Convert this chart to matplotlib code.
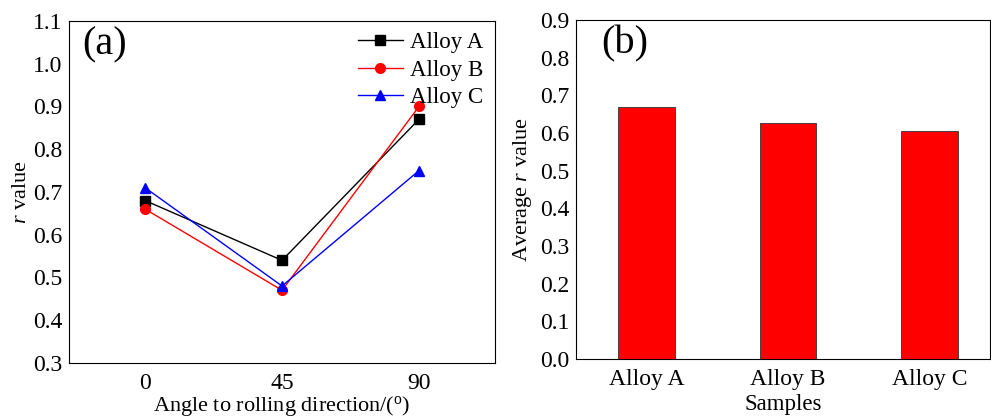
import numpy as np
import matplotlib.pyplot as plt

plt.rcParams['font.family'] = ['Liberation Serif', 'DejaVu Serif']
plt.rcParams['mathtext.fontset'] = 'custom'
plt.rcParams['mathtext.rm'] = 'Liberation Serif'
plt.rcParams['mathtext.it'] = 'Liberation Serif:italic'

# Data
angles = [0, 45, 90]
alloy_a = [0.68, 0.54, 0.87]
alloy_b = [0.66, 0.47, 0.90]
alloy_c = [0.71, 0.48, 0.75]

samples = ["Alloy A", "Alloy B", "Alloy C"]
avg_r = [0.668, 0.626, 0.606]

fig = plt.figure(figsize=(9.91, 4.19), dpi=100)

# (a) r value vs angle
ax1 = fig.add_axes([0.0696, 0.1337, 0.43, 0.8163])
ax1.plot(angles, alloy_a, "-", color="black", marker="s", ms=6.5, lw=1, label="Alloy A")
ax1.plot(angles, alloy_b, "-", color="red", marker="o", ms=7, lw=1, label="Alloy B")
ax1.plot(angles, alloy_c, "-", color="blue", marker="^", ms=7, lw=1, label="Alloy C")
ax1.set_xlim(-25, 115)
ax1.set_ylim(0.3, 1.1)
ax1.set_xticks(angles)
ax1.set_yticks(np.arange(0.3, 1.11, 0.1))
ax1.yaxis.set_major_formatter(plt.FormatStrFormatter('%.1f'))
ax1.tick_params(length=0, labelsize=17)
ax1.tick_params(axis="x", pad=7)
ax1.tick_params(axis="y", pad=5)
ax1.set_xlabel(r"Angle to rolling direction/($^{\mathrm{o}}$)", fontsize=16, labelpad=0)
ax1.set_ylabel(r"$\it{r}$ value", fontsize=16, labelpad=1)
ax1.text(0.03, 0.985, "(a)", transform=ax1.transAxes, fontsize=29, va="top", ha="left")
ax1.legend(loc="upper right", frameon=False, fontsize=16.5, handlelength=2.0,
           handletextpad=0.3, labelspacing=0.28, borderaxespad=0.1)

# (b) average r value
ax2 = fig.add_axes([0.5812, 0.1432, 0.418, 0.8091])
ax2.bar(range(len(samples)), avg_r, width=0.4, color="red", edgecolor="#333333", lw=0.6)
ax2.set_xlim(-0.5, 2.43)
ax2.set_ylim(0, 0.9)
ax2.set_xticks(range(len(samples)))
ax2.set_xticklabels(samples)
ax2.set_yticks(np.arange(0, 0.91, 0.1))
ax2.yaxis.set_major_formatter(plt.FormatStrFormatter('%.1f'))
ax2.tick_params(length=0, labelsize=17)
ax2.tick_params(axis="x", pad=7)
ax2.tick_params(axis="y", pad=5)
ax2.set_xlabel("Samples", fontsize=16.5, labelpad=3)
ax2.set_ylabel(r"Average $\it{r}$ value", fontsize=16, labelpad=4)
ax2.text(0.06, 0.985, "(b)", transform=ax2.transAxes, fontsize=29, va="top", ha="left")

fig.savefig("out.png", dpi=100)
